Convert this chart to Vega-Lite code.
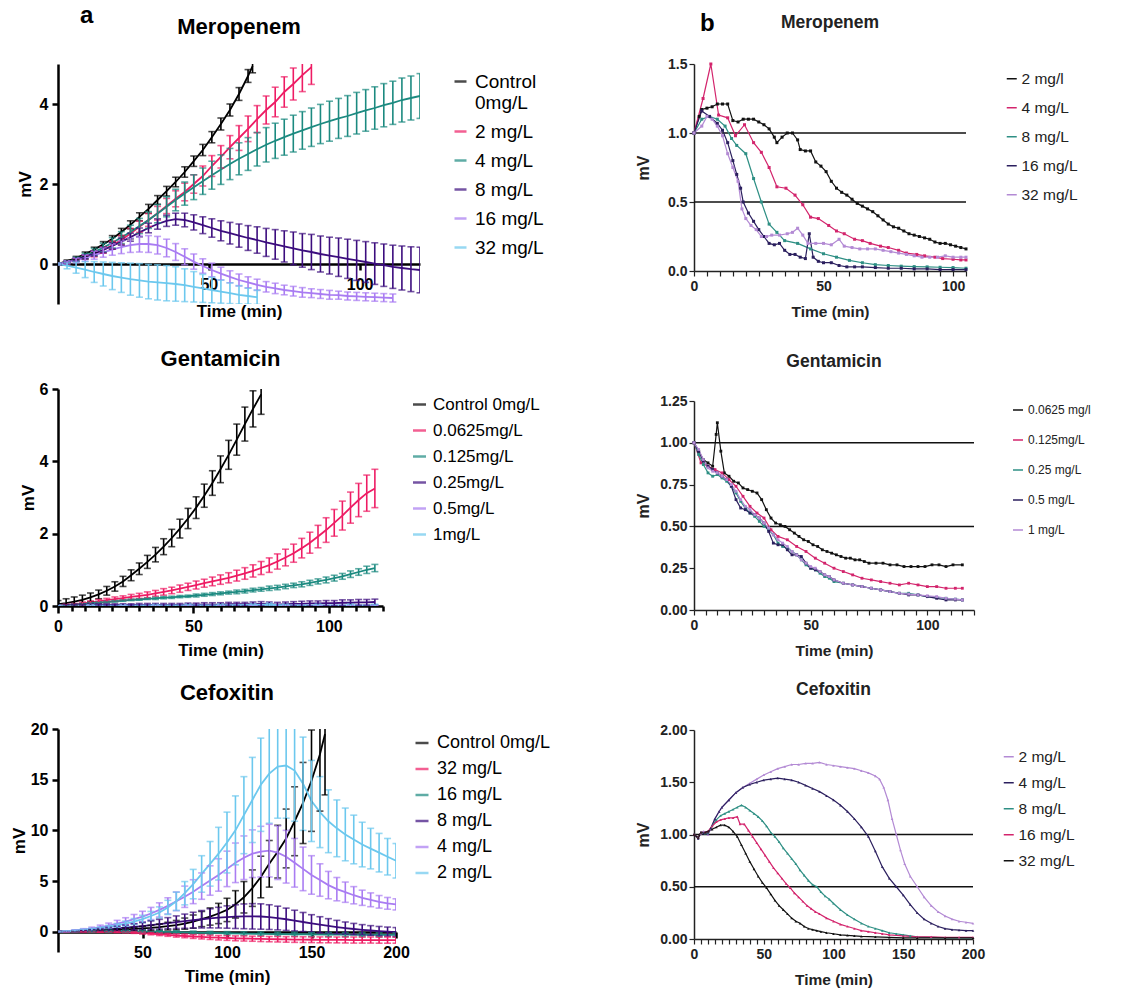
{
"$schema": "https://vega.github.io/schema/vega-lite/v6.json",
"background": "white",
"padding": {"left": 10, "top": 4, "right": 5, "bottom": 3},
"config": {
 "view": {"stroke": null},
 "axis": {"grid": false, "domainColor": "#000", "domainWidth": 2.5, "tickColor": "#000", "tickWidth": 2.5, "tickSize": 6, "labelColor": "#000", "labelFont": "Liberation Sans", "labelFontSize": 16, "labelFontWeight": "bold", "labelPadding": 4, "labelFlush": false, "labelOverlap": false, "titleFont": "Liberation Sans", "titleFontSize": 17, "titleFontWeight": "bold", "titleColor": "#000"},
 "legend": {"labelFont": "Liberation Sans", "labelColor": "#000", "symbolType": "stroke"}
},
"datasets": {
"a1": [
{"t":0,"s":"k","v":0,"e":0.02},{"t":3,"s":"k","v":0.07,"e":0.03},{"t":6,"s":"k","v":0.15,"e":0.04},{"t":9,"s":"k","v":0.25,"e":0.05},{"t":12,"s":"k","v":0.36,"e":0.06},{"t":15,"s":"k","v":0.49,"e":0.07},{"t":18,"s":"k","v":0.63,"e":0.08},{"t":21,"s":"k","v":0.8,"e":0.09},{"t":24,"s":"k","v":0.98,"e":0.1},{"t":27,"s":"k","v":1.18,"e":0.1},{"t":30,"s":"k","v":1.38,"e":0.11},{"t":33,"s":"k","v":1.6,"e":0.11},{"t":36,"s":"k","v":1.82,"e":0.12},{"t":39,"s":"k","v":2.05,"e":0.12},{"t":42,"s":"k","v":2.3,"e":0.13},{"t":45,"s":"k","v":2.57,"e":0.13},{"t":48,"s":"k","v":2.85,"e":0.14},{"t":51,"s":"k","v":3.17,"e":0.14},{"t":54,"s":"k","v":3.5,"e":0.15},{"t":57,"s":"k","v":3.85,"e":0.15},{"t":60,"s":"k","v":4.25,"e":0.16},{"t":63,"s":"k","v":4.7,"e":0.16},{"t":64.5,"s":"k","v":4.95,"e":0.17},
{"t":0,"s":"p","v":0,"e":0.02},{"t":3,"s":"p","v":0.04,"e":0.03},{"t":6,"s":"p","v":0.1,"e":0.04},{"t":9,"s":"p","v":0.17,"e":0.05},{"t":12,"s":"p","v":0.25,"e":0.07},{"t":15,"s":"p","v":0.35,"e":0.08},{"t":18,"s":"p","v":0.47,"e":0.1},{"t":21,"s":"p","v":0.6,"e":0.11},{"t":24,"s":"p","v":0.76,"e":0.13},{"t":27,"s":"p","v":0.93,"e":0.14},{"t":30,"s":"p","v":1.1,"e":0.16},{"t":33,"s":"p","v":1.27,"e":0.17},{"t":36,"s":"p","v":1.45,"e":0.19},{"t":39,"s":"p","v":1.63,"e":0.2},{"t":42,"s":"p","v":1.8,"e":0.22},{"t":45,"s":"p","v":2.0,"e":0.23},{"t":48,"s":"p","v":2.2,"e":0.25},{"t":51,"s":"p","v":2.45,"e":0.26},{"t":54,"s":"p","v":2.68,"e":0.28},{"t":57,"s":"p","v":2.92,"e":0.29},{"t":60,"s":"p","v":3.15,"e":0.31},{"t":63,"s":"p","v":3.38,"e":0.32},{"t":66,"s":"p","v":3.62,"e":0.34},{"t":69,"s":"p","v":3.85,"e":0.35},{"t":72,"s":"p","v":4.05,"e":0.37},{"t":75,"s":"p","v":4.3,"e":0.38},{"t":78,"s":"p","v":4.5,"e":0.4},{"t":81,"s":"p","v":4.72,"e":0.41},{"t":84,"s":"p","v":4.92,"e":0.43},
{"t":0,"s":"t","v":0,"e":0.02},{"t":3,"s":"t","v":0.05,"e":0.03},{"t":6,"s":"t","v":0.12,"e":0.05},{"t":9,"s":"t","v":0.2,"e":0.07},{"t":12,"s":"t","v":0.3,"e":0.09},{"t":15,"s":"t","v":0.41,"e":0.11},{"t":18,"s":"t","v":0.53,"e":0.13},{"t":21,"s":"t","v":0.66,"e":0.15},{"t":24,"s":"t","v":0.8,"e":0.17},{"t":27,"s":"t","v":0.95,"e":0.19},{"t":30,"s":"t","v":1.1,"e":0.21},{"t":33,"s":"t","v":1.26,"e":0.23},{"t":36,"s":"t","v":1.43,"e":0.25},{"t":39,"s":"t","v":1.6,"e":0.27},{"t":42,"s":"t","v":1.76,"e":0.29},{"t":45,"s":"t","v":1.92,"e":0.31},{"t":48,"s":"t","v":2.07,"e":0.33},{"t":51,"s":"t","v":2.22,"e":0.35},{"t":54,"s":"t","v":2.36,"e":0.37},{"t":57,"s":"t","v":2.5,"e":0.39},{"t":60,"s":"t","v":2.63,"e":0.4},{"t":63,"s":"t","v":2.75,"e":0.41},{"t":66,"s":"t","v":2.87,"e":0.42},{"t":69,"s":"t","v":2.98,"e":0.43},{"t":72,"s":"t","v":3.08,"e":0.44},{"t":75,"s":"t","v":3.17,"e":0.45},{"t":78,"s":"t","v":3.26,"e":0.46},{"t":81,"s":"t","v":3.34,"e":0.47},{"t":84,"s":"t","v":3.42,"e":0.48},{"t":87,"s":"t","v":3.5,"e":0.49},{"t":90,"s":"t","v":3.57,"e":0.5},{"t":93,"s":"t","v":3.64,"e":0.5},{"t":96,"s":"t","v":3.7,"e":0.51},{"t":99,"s":"t","v":3.77,"e":0.52},{"t":102,"s":"t","v":3.84,"e":0.52},{"t":105,"s":"t","v":3.9,"e":0.53},{"t":108,"s":"t","v":3.97,"e":0.54},{"t":111,"s":"t","v":4.03,"e":0.54},{"t":114,"s":"t","v":4.1,"e":0.55},{"t":117,"s":"t","v":4.15,"e":0.55},{"t":120,"s":"t","v":4.2,"e":0.56},
{"t":0,"s":"d","v":0,"e":0.02},{"t":3,"s":"d","v":0.05,"e":0.03},{"t":6,"s":"d","v":0.11,"e":0.04},{"t":9,"s":"d","v":0.18,"e":0.05},{"t":12,"s":"d","v":0.26,"e":0.06},{"t":15,"s":"d","v":0.35,"e":0.07},{"t":18,"s":"d","v":0.45,"e":0.08},{"t":21,"s":"d","v":0.56,"e":0.09},{"t":24,"s":"d","v":0.67,"e":0.1},{"t":27,"s":"d","v":0.79,"e":0.11},{"t":30,"s":"d","v":0.9,"e":0.12},{"t":33,"s":"d","v":1.0,"e":0.13},{"t":36,"s":"d","v":1.08,"e":0.14},{"t":39,"s":"d","v":1.12,"e":0.15},{"t":42,"s":"d","v":1.1,"e":0.17},{"t":45,"s":"d","v":1.04,"e":0.19},{"t":48,"s":"d","v":0.97,"e":0.21},{"t":51,"s":"d","v":0.9,"e":0.23},{"t":54,"s":"d","v":0.83,"e":0.25},{"t":57,"s":"d","v":0.77,"e":0.27},{"t":60,"s":"d","v":0.71,"e":0.29},{"t":63,"s":"d","v":0.65,"e":0.31},{"t":66,"s":"d","v":0.6,"e":0.33},{"t":69,"s":"d","v":0.54,"e":0.35},{"t":72,"s":"d","v":0.49,"e":0.37},{"t":75,"s":"d","v":0.44,"e":0.39},{"t":78,"s":"d","v":0.39,"e":0.41},{"t":81,"s":"d","v":0.34,"e":0.42},{"t":84,"s":"d","v":0.3,"e":0.44},{"t":87,"s":"d","v":0.25,"e":0.45},{"t":90,"s":"d","v":0.21,"e":0.46},{"t":93,"s":"d","v":0.17,"e":0.48},{"t":96,"s":"d","v":0.13,"e":0.49},{"t":99,"s":"d","v":0.09,"e":0.5},{"t":102,"s":"d","v":0.05,"e":0.51},{"t":105,"s":"d","v":0.01,"e":0.52},{"t":108,"s":"d","v":-0.03,"e":0.53},{"t":111,"s":"d","v":-0.07,"e":0.54},{"t":114,"s":"d","v":-0.1,"e":0.55},{"t":117,"s":"d","v":-0.13,"e":0.56},{"t":120,"s":"d","v":-0.15,"e":0.57},
{"t":0,"s":"l","v":0,"e":0.02},{"t":3,"s":"l","v":0.04,"e":0.04},{"t":6,"s":"l","v":0.09,"e":0.06},{"t":9,"s":"l","v":0.15,"e":0.08},{"t":12,"s":"l","v":0.22,"e":0.1},{"t":15,"s":"l","v":0.29,"e":0.12},{"t":18,"s":"l","v":0.36,"e":0.14},{"t":21,"s":"l","v":0.42,"e":0.16},{"t":24,"s":"l","v":0.47,"e":0.18},{"t":27,"s":"l","v":0.5,"e":0.2},{"t":30,"s":"l","v":0.5,"e":0.21},{"t":33,"s":"l","v":0.47,"e":0.22},{"t":36,"s":"l","v":0.4,"e":0.22},{"t":39,"s":"l","v":0.3,"e":0.21},{"t":42,"s":"l","v":0.18,"e":0.2},{"t":45,"s":"l","v":0.06,"e":0.19},{"t":48,"s":"l","v":-0.05,"e":0.18},{"t":51,"s":"l","v":-0.15,"e":0.17},{"t":54,"s":"l","v":-0.24,"e":0.16},{"t":57,"s":"l","v":-0.32,"e":0.15},{"t":60,"s":"l","v":-0.4,"e":0.15},{"t":63,"s":"l","v":-0.46,"e":0.14},{"t":66,"s":"l","v":-0.52,"e":0.14},{"t":69,"s":"l","v":-0.57,"e":0.13},{"t":72,"s":"l","v":-0.61,"e":0.13},{"t":75,"s":"l","v":-0.65,"e":0.12},{"t":78,"s":"l","v":-0.68,"e":0.12},{"t":81,"s":"l","v":-0.71,"e":0.12},{"t":84,"s":"l","v":-0.73,"e":0.11},{"t":87,"s":"l","v":-0.75,"e":0.11},{"t":90,"s":"l","v":-0.77,"e":0.11},{"t":93,"s":"l","v":-0.78,"e":0.1},{"t":96,"s":"l","v":-0.8,"e":0.1},{"t":99,"s":"l","v":-0.81,"e":0.1},{"t":102,"s":"l","v":-0.82,"e":0.1},{"t":105,"s":"l","v":-0.83,"e":0.1},{"t":108,"s":"l","v":-0.84,"e":0.1},{"t":111,"s":"l","v":-0.85,"e":0.1},
{"t":0,"s":"c","v":0,"e":0.02},{"t":3,"s":"c","v":-0.04,"e":0.08},{"t":6,"s":"c","v":-0.09,"e":0.14},{"t":9,"s":"c","v":-0.14,"e":0.2},{"t":12,"s":"c","v":-0.2,"e":0.26},{"t":15,"s":"c","v":-0.25,"e":0.3},{"t":18,"s":"c","v":-0.3,"e":0.34},{"t":21,"s":"c","v":-0.34,"e":0.37},{"t":24,"s":"c","v":-0.38,"e":0.4},{"t":27,"s":"c","v":-0.41,"e":0.42},{"t":30,"s":"c","v":-0.44,"e":0.43},{"t":33,"s":"c","v":-0.46,"e":0.44},{"t":36,"s":"c","v":-0.48,"e":0.44},{"t":39,"s":"c","v":-0.5,"e":0.43},{"t":42,"s":"c","v":-0.53,"e":0.41},{"t":45,"s":"c","v":-0.57,"e":0.38},{"t":48,"s":"c","v":-0.61,"e":0.35},{"t":51,"s":"c","v":-0.65,"e":0.32},{"t":54,"s":"c","v":-0.69,"e":0.29},{"t":57,"s":"c","v":-0.73,"e":0.26},{"t":60,"s":"c","v":-0.77,"e":0.23},{"t":63,"s":"c","v":-0.8,"e":0.2},{"t":66,"s":"c","v":-0.83,"e":0.18}
],
"a2": [
{"t":0,"s":"k","v":0.05,"e":0.1},{"t":3,"s":"k","v":0.08,"e":0.12},{"t":6,"s":"k","v":0.12,"e":0.13},{"t":9,"s":"k","v":0.17,"e":0.13},{"t":12,"s":"k","v":0.24,"e":0.12},{"t":15,"s":"k","v":0.32,"e":0.12},{"t":18,"s":"k","v":0.42,"e":0.12},{"t":21,"s":"k","v":0.54,"e":0.13},{"t":24,"s":"k","v":0.68,"e":0.14},{"t":27,"s":"k","v":0.85,"e":0.15},{"t":30,"s":"k","v":1.03,"e":0.16},{"t":33,"s":"k","v":1.22,"e":0.18},{"t":36,"s":"k","v":1.42,"e":0.2},{"t":39,"s":"k","v":1.64,"e":0.22},{"t":42,"s":"k","v":1.88,"e":0.24},{"t":45,"s":"k","v":2.14,"e":0.26},{"t":48,"s":"k","v":2.42,"e":0.28},{"t":51,"s":"k","v":2.72,"e":0.3},{"t":54,"s":"k","v":3.05,"e":0.32},{"t":57,"s":"k","v":3.4,"e":0.34},{"t":60,"s":"k","v":3.78,"e":0.37},{"t":63,"s":"k","v":4.18,"e":0.4},{"t":66,"s":"k","v":4.6,"e":0.43},{"t":69,"s":"k","v":5.03,"e":0.47},{"t":72,"s":"k","v":5.45,"e":0.5},{"t":75,"s":"k","v":5.85,"e":0.55},
{"t":0,"s":"p","v":0,"e":0.02},{"t":3,"s":"p","v":0.02,"e":0.03},{"t":6,"s":"p","v":0.04,"e":0.03},{"t":9,"s":"p","v":0.07,"e":0.04},{"t":12,"s":"p","v":0.1,"e":0.04},{"t":15,"s":"p","v":0.13,"e":0.05},{"t":18,"s":"p","v":0.16,"e":0.05},{"t":21,"s":"p","v":0.19,"e":0.06},{"t":24,"s":"p","v":0.22,"e":0.06},{"t":27,"s":"p","v":0.25,"e":0.07},{"t":30,"s":"p","v":0.28,"e":0.07},{"t":33,"s":"p","v":0.31,"e":0.08},{"t":36,"s":"p","v":0.35,"e":0.08},{"t":39,"s":"p","v":0.39,"e":0.09},{"t":42,"s":"p","v":0.43,"e":0.09},{"t":45,"s":"p","v":0.48,"e":0.1},{"t":48,"s":"p","v":0.53,"e":0.1},{"t":51,"s":"p","v":0.58,"e":0.11},{"t":54,"s":"p","v":0.63,"e":0.11},{"t":57,"s":"p","v":0.68,"e":0.12},{"t":60,"s":"p","v":0.73,"e":0.13},{"t":63,"s":"p","v":0.78,"e":0.14},{"t":66,"s":"p","v":0.84,"e":0.15},{"t":69,"s":"p","v":0.9,"e":0.16},{"t":72,"s":"p","v":0.97,"e":0.17},{"t":75,"s":"p","v":1.05,"e":0.18},{"t":78,"s":"p","v":1.13,"e":0.2},{"t":81,"s":"p","v":1.23,"e":0.21},{"t":84,"s":"p","v":1.34,"e":0.23},{"t":87,"s":"p","v":1.46,"e":0.25},{"t":90,"s":"p","v":1.6,"e":0.27},{"t":93,"s":"p","v":1.75,"e":0.29},{"t":96,"s":"p","v":1.92,"e":0.31},{"t":99,"s":"p","v":2.1,"e":0.34},{"t":102,"s":"p","v":2.3,"e":0.37},{"t":105,"s":"p","v":2.5,"e":0.4},{"t":108,"s":"p","v":2.72,"e":0.43},{"t":111,"s":"p","v":2.93,"e":0.46},{"t":114,"s":"p","v":3.12,"e":0.5},{"t":117,"s":"p","v":3.25,"e":0.53},
{"t":0,"s":"t","v":0,"e":0.02},{"t":3,"s":"t","v":0.01,"e":0.02},{"t":6,"s":"t","v":0.03,"e":0.02},{"t":9,"s":"t","v":0.05,"e":0.02},{"t":12,"s":"t","v":0.07,"e":0.02},{"t":15,"s":"t","v":0.09,"e":0.02},{"t":18,"s":"t","v":0.11,"e":0.02},{"t":21,"s":"t","v":0.13,"e":0.02},{"t":24,"s":"t","v":0.15,"e":0.02},{"t":27,"s":"t","v":0.17,"e":0.02},{"t":30,"s":"t","v":0.18,"e":0.02},{"t":33,"s":"t","v":0.2,"e":0.02},{"t":36,"s":"t","v":0.21,"e":0.03},{"t":39,"s":"t","v":0.23,"e":0.03},{"t":42,"s":"t","v":0.24,"e":0.03},{"t":45,"s":"t","v":0.26,"e":0.03},{"t":48,"s":"t","v":0.27,"e":0.03},{"t":51,"s":"t","v":0.29,"e":0.04},{"t":54,"s":"t","v":0.31,"e":0.04},{"t":57,"s":"t","v":0.33,"e":0.04},{"t":60,"s":"t","v":0.35,"e":0.04},{"t":63,"s":"t","v":0.37,"e":0.04},{"t":66,"s":"t","v":0.39,"e":0.05},{"t":69,"s":"t","v":0.41,"e":0.05},{"t":72,"s":"t","v":0.44,"e":0.05},{"t":75,"s":"t","v":0.46,"e":0.05},{"t":78,"s":"t","v":0.49,"e":0.06},{"t":81,"s":"t","v":0.51,"e":0.06},{"t":84,"s":"t","v":0.54,"e":0.06},{"t":87,"s":"t","v":0.57,"e":0.06},{"t":90,"s":"t","v":0.6,"e":0.07},{"t":93,"s":"t","v":0.64,"e":0.07},{"t":96,"s":"t","v":0.68,"e":0.07},{"t":99,"s":"t","v":0.72,"e":0.08},{"t":102,"s":"t","v":0.77,"e":0.08},{"t":105,"s":"t","v":0.82,"e":0.08},{"t":108,"s":"t","v":0.88,"e":0.09},{"t":111,"s":"t","v":0.94,"e":0.09},{"t":114,"s":"t","v":1.0,"e":0.1},{"t":117,"s":"t","v":1.05,"e":0.1},
{"t":0,"s":"d","v":0,"e":0.03},{"t":3,"s":"d","v":0.01,"e":0.03},{"t":6,"s":"d","v":0.02,"e":0.03},{"t":9,"s":"d","v":0.02,"e":0.03},{"t":12,"s":"d","v":0.03,"e":0.03},{"t":15,"s":"d","v":0.03,"e":0.03},{"t":18,"s":"d","v":0.03,"e":0.03},{"t":21,"s":"d","v":0.03,"e":0.03},{"t":24,"s":"d","v":0.03,"e":0.03},{"t":27,"s":"d","v":0.03,"e":0.03},{"t":30,"s":"d","v":0.03,"e":0.04},{"t":33,"s":"d","v":0.03,"e":0.04},{"t":36,"s":"d","v":0.03,"e":0.04},{"t":39,"s":"d","v":0.03,"e":0.04},{"t":42,"s":"d","v":0.03,"e":0.04},{"t":45,"s":"d","v":0.03,"e":0.04},{"t":48,"s":"d","v":0.04,"e":0.04},{"t":51,"s":"d","v":0.04,"e":0.04},{"t":54,"s":"d","v":0.04,"e":0.05},{"t":57,"s":"d","v":0.04,"e":0.05},{"t":60,"s":"d","v":0.04,"e":0.05},{"t":63,"s":"d","v":0.05,"e":0.05},{"t":66,"s":"d","v":0.05,"e":0.05},{"t":69,"s":"d","v":0.05,"e":0.05},{"t":72,"s":"d","v":0.05,"e":0.06},{"t":75,"s":"d","v":0.06,"e":0.06},{"t":78,"s":"d","v":0.05,"e":0.06},{"t":81,"s":"d","v":0.04,"e":0.06},{"t":84,"s":"d","v":0.05,"e":0.06},{"t":87,"s":"d","v":0.06,"e":0.06},{"t":90,"s":"d","v":0.06,"e":0.07},{"t":93,"s":"d","v":0.07,"e":0.07},{"t":96,"s":"d","v":0.07,"e":0.07},{"t":99,"s":"d","v":0.08,"e":0.07},{"t":102,"s":"d","v":0.08,"e":0.07},{"t":105,"s":"d","v":0.09,"e":0.08},{"t":108,"s":"d","v":0.09,"e":0.08},{"t":111,"s":"d","v":0.1,"e":0.08},{"t":114,"s":"d","v":0.1,"e":0.08},{"t":117,"s":"d","v":0.11,"e":0.08},
{"t":0,"s":"l","v":0,"e":0.01},{"t":12,"s":"l","v":0.01,"e":0.01},{"t":24,"s":"l","v":0.01,"e":0.01},{"t":36,"s":"l","v":0.01,"e":0.01},{"t":48,"s":"l","v":0.01,"e":0.01},{"t":60,"s":"l","v":0.01,"e":0.01},{"t":72,"s":"l","v":0.01,"e":0.01},{"t":84,"s":"l","v":0.01,"e":0.01},{"t":96,"s":"l","v":0.01,"e":0.01},{"t":108,"s":"l","v":0.01,"e":0.01},{"t":117,"s":"l","v":0.01,"e":0.01},
{"t":0,"s":"c","v":0,"e":0.02},{"t":12,"s":"c","v":0.01,"e":0.02},{"t":24,"s":"c","v":0.01,"e":0.02},{"t":36,"s":"c","v":0.02,"e":0.02},{"t":48,"s":"c","v":0.02,"e":0.03},{"t":60,"s":"c","v":0.02,"e":0.03},{"t":72,"s":"c","v":0.03,"e":0.03},{"t":78,"s":"c","v":0.04,"e":0.04},{"t":84,"s":"c","v":0.02,"e":0.03},{"t":96,"s":"c","v":0.02,"e":0.03},{"t":108,"s":"c","v":0.02,"e":0.03},{"t":117,"s":"c","v":0.02,"e":0.03}
],
"a3": [
{"t":0,"s":"k","v":0,"e":0.02},{"t":5,"s":"k","v":0.02,"e":0.03},{"t":10,"s":"k","v":0.04,"e":0.04},{"t":15,"s":"k","v":0.06,"e":0.05},{"t":20,"s":"k","v":0.09,"e":0.06},{"t":25,"s":"k","v":0.12,"e":0.07},{"t":30,"s":"k","v":0.15,"e":0.08},{"t":35,"s":"k","v":0.19,"e":0.1},{"t":40,"s":"k","v":0.23,"e":0.12},{"t":45,"s":"k","v":0.28,"e":0.15},{"t":50,"s":"k","v":0.33,"e":0.2},{"t":55,"s":"k","v":0.38,"e":0.25},{"t":60,"s":"k","v":0.45,"e":0.3},{"t":65,"s":"k","v":0.55,"e":0.38},{"t":70,"s":"k","v":0.65,"e":0.46},{"t":75,"s":"k","v":0.8,"e":0.55},{"t":80,"s":"k","v":1.0,"e":0.65},{"t":85,"s":"k","v":1.25,"e":0.75},{"t":90,"s":"k","v":1.5,"e":0.85},{"t":95,"s":"k","v":1.8,"e":1.0},{"t":100,"s":"k","v":2.15,"e":1.15},{"t":105,"s":"k","v":2.7,"e":1.35},{"t":110,"s":"k","v":3.4,"e":1.55},{"t":115,"s":"k","v":4.3,"e":1.8},{"t":120,"s":"k","v":5.4,"e":2.05},{"t":125,"s":"k","v":6.7,"e":2.3},{"t":130,"s":"k","v":7.9,"e":2.6},{"t":135,"s":"k","v":9.2,"e":2.9},{"t":140,"s":"k","v":10.9,"e":3.4},{"t":145,"s":"k","v":12.7,"e":4.0},{"t":150,"s":"k","v":14.9,"e":5.0},{"t":155,"s":"k","v":17.5,"e":5.6},{"t":158,"s":"k","v":19.5,"e":6.0},
{"t":0,"s":"p","v":0,"e":0.02},{"t":5,"s":"p","v":0,"e":0.02},{"t":10,"s":"p","v":0,"e":0.02},{"t":15,"s":"p","v":0,"e":0.03},{"t":20,"s":"p","v":0,"e":0.03},{"t":25,"s":"p","v":-0.01,"e":0.04},{"t":30,"s":"p","v":-0.01,"e":0.05},{"t":35,"s":"p","v":-0.02,"e":0.06},{"t":40,"s":"p","v":-0.04,"e":0.07},{"t":45,"s":"p","v":-0.08,"e":0.08},{"t":50,"s":"p","v":-0.13,"e":0.1},{"t":55,"s":"p","v":-0.19,"e":0.11},{"t":60,"s":"p","v":-0.25,"e":0.13},{"t":65,"s":"p","v":-0.31,"e":0.14},{"t":70,"s":"p","v":-0.37,"e":0.16},{"t":75,"s":"p","v":-0.42,"e":0.17},{"t":80,"s":"p","v":-0.47,"e":0.19},{"t":85,"s":"p","v":-0.51,"e":0.2},{"t":90,"s":"p","v":-0.55,"e":0.21},{"t":95,"s":"p","v":-0.59,"e":0.22},{"t":100,"s":"p","v":-0.62,"e":0.23},{"t":105,"s":"p","v":-0.65,"e":0.24},{"t":110,"s":"p","v":-0.67,"e":0.25},{"t":115,"s":"p","v":-0.69,"e":0.25},{"t":120,"s":"p","v":-0.71,"e":0.26},{"t":125,"s":"p","v":-0.73,"e":0.26},{"t":130,"s":"p","v":-0.74,"e":0.27},{"t":135,"s":"p","v":-0.76,"e":0.27},{"t":140,"s":"p","v":-0.77,"e":0.28},{"t":145,"s":"p","v":-0.78,"e":0.28},{"t":150,"s":"p","v":-0.79,"e":0.28},{"t":155,"s":"p","v":-0.8,"e":0.29},{"t":160,"s":"p","v":-0.8,"e":0.29},{"t":165,"s":"p","v":-0.81,"e":0.29},{"t":170,"s":"p","v":-0.81,"e":0.3},{"t":175,"s":"p","v":-0.82,"e":0.3},{"t":180,"s":"p","v":-0.82,"e":0.3},{"t":185,"s":"p","v":-0.82,"e":0.3},{"t":190,"s":"p","v":-0.83,"e":0.3},{"t":195,"s":"p","v":-0.83,"e":0.3},{"t":200,"s":"p","v":-0.83,"e":0.3},
{"t":0,"s":"t","v":0,"e":0.02},{"t":10,"s":"t","v":0.02,"e":0.05},{"t":20,"s":"t","v":0.04,"e":0.07},{"t":30,"s":"t","v":0.05,"e":0.09},{"t":40,"s":"t","v":0.05,"e":0.1},{"t":50,"s":"t","v":0.03,"e":0.11},{"t":60,"s":"t","v":0,"e":0.12},{"t":70,"s":"t","v":-0.04,"e":0.13},{"t":80,"s":"t","v":-0.08,"e":0.14},{"t":90,"s":"t","v":-0.12,"e":0.15},{"t":100,"s":"t","v":-0.15,"e":0.16},{"t":110,"s":"t","v":-0.18,"e":0.17},{"t":120,"s":"t","v":-0.21,"e":0.18},{"t":130,"s":"t","v":-0.23,"e":0.18},{"t":140,"s":"t","v":-0.25,"e":0.19},{"t":150,"s":"t","v":-0.27,"e":0.19},{"t":160,"s":"t","v":-0.28,"e":0.2},{"t":170,"s":"t","v":-0.29,"e":0.2},{"t":180,"s":"t","v":-0.3,"e":0.2},{"t":190,"s":"t","v":-0.31,"e":0.2},{"t":200,"s":"t","v":-0.32,"e":0.2},
{"t":0,"s":"d","v":0,"e":0.02},{"t":5,"s":"d","v":0.03,"e":0.03},{"t":10,"s":"d","v":0.06,"e":0.05},{"t":15,"s":"d","v":0.1,"e":0.07},{"t":20,"s":"d","v":0.15,"e":0.1},{"t":25,"s":"d","v":0.2,"e":0.13},{"t":30,"s":"d","v":0.26,"e":0.17},{"t":35,"s":"d","v":0.33,"e":0.21},{"t":40,"s":"d","v":0.4,"e":0.26},{"t":45,"s":"d","v":0.48,"e":0.31},{"t":50,"s":"d","v":0.56,"e":0.36},{"t":55,"s":"d","v":0.65,"e":0.42},{"t":60,"s":"d","v":0.74,"e":0.48},{"t":65,"s":"d","v":0.84,"e":0.55},{"t":70,"s":"d","v":0.94,"e":0.62},{"t":75,"s":"d","v":1.04,"e":0.7},{"t":80,"s":"d","v":1.14,"e":0.78},{"t":85,"s":"d","v":1.23,"e":0.86},{"t":90,"s":"d","v":1.32,"e":0.94},{"t":95,"s":"d","v":1.39,"e":1.02},{"t":100,"s":"d","v":1.45,"e":1.1},{"t":105,"s":"d","v":1.49,"e":1.17},{"t":110,"s":"d","v":1.52,"e":1.22},{"t":115,"s":"d","v":1.52,"e":1.25},{"t":120,"s":"d","v":1.5,"e":1.25},{"t":125,"s":"d","v":1.44,"e":1.22},{"t":130,"s":"d","v":1.35,"e":1.17},{"t":135,"s":"d","v":1.23,"e":1.1},{"t":140,"s":"d","v":1.1,"e":1.02},{"t":145,"s":"d","v":0.96,"e":0.94},{"t":150,"s":"d","v":0.82,"e":0.86},{"t":155,"s":"d","v":0.69,"e":0.79},{"t":160,"s":"d","v":0.57,"e":0.72},{"t":165,"s":"d","v":0.46,"e":0.66},{"t":170,"s":"d","v":0.36,"e":0.6},{"t":175,"s":"d","v":0.27,"e":0.55},{"t":180,"s":"d","v":0.19,"e":0.51},{"t":185,"s":"d","v":0.12,"e":0.48},{"t":190,"s":"d","v":0.06,"e":0.46},{"t":195,"s":"d","v":0.01,"e":0.45},{"t":200,"s":"d","v":-0.03,"e":0.44},
{"t":0,"s":"l","v":0,"e":0.02},{"t":5,"s":"l","v":0.05,"e":0.04},{"t":10,"s":"l","v":0.12,"e":0.07},{"t":15,"s":"l","v":0.2,"e":0.1},{"t":20,"s":"l","v":0.3,"e":0.15},{"t":25,"s":"l","v":0.45,"e":0.2},{"t":30,"s":"l","v":0.6,"e":0.25},{"t":35,"s":"l","v":0.8,"e":0.32},{"t":40,"s":"l","v":1.0,"e":0.38},{"t":45,"s":"l","v":1.25,"e":0.45},{"t":50,"s":"l","v":1.5,"e":0.52},{"t":55,"s":"l","v":1.8,"e":0.6},{"t":60,"s":"l","v":2.15,"e":0.7},{"t":65,"s":"l","v":2.55,"e":0.8},{"t":70,"s":"l","v":3.0,"e":0.92},{"t":75,"s":"l","v":3.45,"e":1.05},{"t":80,"s":"l","v":3.95,"e":1.18},{"t":85,"s":"l","v":4.5,"e":1.3},{"t":90,"s":"l","v":5.05,"e":1.45},{"t":95,"s":"l","v":5.6,"e":1.6},{"t":100,"s":"l","v":6.2,"e":1.75},{"t":105,"s":"l","v":6.8,"e":1.95},{"t":110,"s":"l","v":7.3,"e":2.15},{"t":115,"s":"l","v":7.7,"e":2.35},{"t":120,"s":"l","v":7.9,"e":2.5},{"t":125,"s":"l","v":8.0,"e":2.6},{"t":130,"s":"l","v":7.8,"e":2.65},{"t":135,"s":"l","v":7.4,"e":2.6},{"t":140,"s":"l","v":6.8,"e":2.4},{"t":145,"s":"l","v":6.2,"e":2.15},{"t":150,"s":"l","v":5.6,"e":1.9},{"t":155,"s":"l","v":5.1,"e":1.6},{"t":160,"s":"l","v":4.6,"e":1.35},{"t":165,"s":"l","v":4.2,"e":1.15},{"t":170,"s":"l","v":3.9,"e":1.0},{"t":175,"s":"l","v":3.6,"e":0.85},{"t":180,"s":"l","v":3.35,"e":0.75},{"t":185,"s":"l","v":3.15,"e":0.68},{"t":190,"s":"l","v":2.95,"e":0.62},{"t":195,"s":"l","v":2.8,"e":0.58},{"t":200,"s":"l","v":2.7,"e":0.55},
{"t":0,"s":"c","v":0,"e":0.02},{"t":5,"s":"c","v":0.05,"e":0.04},{"t":10,"s":"c","v":0.1,"e":0.06},{"t":15,"s":"c","v":0.17,"e":0.08},{"t":20,"s":"c","v":0.25,"e":0.1},{"t":25,"s":"c","v":0.35,"e":0.13},{"t":30,"s":"c","v":0.47,"e":0.16},{"t":35,"s":"c","v":0.62,"e":0.2},{"t":40,"s":"c","v":0.8,"e":0.25},{"t":45,"s":"c","v":1.0,"e":0.3},{"t":50,"s":"c","v":1.25,"e":0.37},{"t":55,"s":"c","v":1.55,"e":0.45},{"t":60,"s":"c","v":1.9,"e":0.55},{"t":65,"s":"c","v":2.4,"e":0.7},{"t":70,"s":"c","v":3.0,"e":0.9},{"t":75,"s":"c","v":3.8,"e":1.15},{"t":80,"s":"c","v":4.7,"e":1.45},{"t":85,"s":"c","v":5.7,"e":1.8},{"t":90,"s":"c","v":6.7,"e":2.2},{"t":95,"s":"c","v":7.7,"e":2.6},{"t":100,"s":"c","v":8.8,"e":3.0},{"t":105,"s":"c","v":10.0,"e":3.4},{"t":110,"s":"c","v":11.5,"e":3.8},{"t":115,"s":"c","v":13.0,"e":4.2},{"t":120,"s":"c","v":14.5,"e":4.6},{"t":125,"s":"c","v":15.6,"e":4.9},{"t":130,"s":"c","v":16.3,"e":5.1},{"t":135,"s":"c","v":16.4,"e":5.2},{"t":140,"s":"c","v":15.9,"e":5.0},{"t":145,"s":"c","v":14.6,"e":4.6},{"t":150,"s":"c","v":12.9,"e":4.0},{"t":155,"s":"c","v":11.8,"e":3.5},{"t":160,"s":"c","v":10.9,"e":3.1},{"t":165,"s":"c","v":10.2,"e":2.8},{"t":170,"s":"c","v":9.6,"e":2.6},{"t":175,"s":"c","v":9.1,"e":2.4},{"t":180,"s":"c","v":8.6,"e":2.2},{"t":185,"s":"c","v":8.2,"e":2.0},{"t":190,"s":"c","v":7.8,"e":1.9},{"t":195,"s":"c","v":7.4,"e":1.8},{"t":200,"s":"c","v":7.0,"e":1.7}
],
"b1": [
{"t":0,"s":"k","v":1.0},{"t":2,"s":"k","v":1.12},{"t":3,"s":"k","v":1.17},{"t":5,"s":"k","v":1.18},{"t":7,"s":"k","v":1.19},{"t":9,"s":"k","v":1.21},{"t":11,"s":"k","v":1.21},{"t":13,"s":"k","v":1.21},{"t":15,"s":"k","v":1.09},{"t":17,"s":"k","v":1.08},{"t":19,"s":"k","v":1.1},{"t":21,"s":"k","v":1.1},{"t":23,"s":"k","v":1.1},{"t":25,"s":"k","v":1.08},{"t":27,"s":"k","v":1.06},{"t":29,"s":"k","v":1.03},{"t":31,"s":"k","v":0.97},{"t":32,"s":"k","v":0.93},{"t":34,"s":"k","v":0.97},{"t":36,"s":"k","v":1.0},{"t":38,"s":"k","v":1.0},{"t":40,"s":"k","v":0.95},{"t":41,"s":"k","v":0.88},{"t":43,"s":"k","v":0.87},{"t":45,"s":"k","v":0.87},{"t":47,"s":"k","v":0.79},{"t":49,"s":"k","v":0.76},{"t":51,"s":"k","v":0.72},{"t":53,"s":"k","v":0.65},{"t":55,"s":"k","v":0.6},{"t":57,"s":"k","v":0.57},{"t":59,"s":"k","v":0.55},{"t":61,"s":"k","v":0.52},{"t":63,"s":"k","v":0.49},{"t":65,"s":"k","v":0.47},{"t":67,"s":"k","v":0.45},{"t":69,"s":"k","v":0.43},{"t":71,"s":"k","v":0.4},{"t":73,"s":"k","v":0.37},{"t":75,"s":"k","v":0.34},{"t":77,"s":"k","v":0.32},{"t":79,"s":"k","v":0.31},{"t":81,"s":"k","v":0.29},{"t":83,"s":"k","v":0.27},{"t":85,"s":"k","v":0.26},{"t":87,"s":"k","v":0.25},{"t":89,"s":"k","v":0.24},{"t":91,"s":"k","v":0.23},{"t":93,"s":"k","v":0.21},{"t":95,"s":"k","v":0.2},{"t":97,"s":"k","v":0.2},{"t":99,"s":"k","v":0.19},{"t":101,"s":"k","v":0.18},{"t":103,"s":"k","v":0.17},{"t":105,"s":"k","v":0.16},
{"t":0,"s":"p","v":1.0},{"t":3.5,"s":"p","v":1.25},{"t":6.5,"s":"p","v":1.5},{"t":9.5,"s":"p","v":1.13},{"t":13,"s":"p","v":1.11},{"t":16,"s":"p","v":0.98},{"t":19.5,"s":"p","v":1.06},{"t":23,"s":"p","v":0.93},{"t":26,"s":"p","v":0.86},{"t":29,"s":"p","v":0.75},{"t":32,"s":"p","v":0.61},{"t":35.5,"s":"p","v":0.6},{"t":39,"s":"p","v":0.55},{"t":42,"s":"p","v":0.48},{"t":45,"s":"p","v":0.39},{"t":48,"s":"p","v":0.38},{"t":52,"s":"p","v":0.33},{"t":55,"s":"p","v":0.29},{"t":58,"s":"p","v":0.27},{"t":62,"s":"p","v":0.23},{"t":65,"s":"p","v":0.22},{"t":68,"s":"p","v":0.2},{"t":72,"s":"p","v":0.18},{"t":75,"s":"p","v":0.17},{"t":79,"s":"p","v":0.15},{"t":82,"s":"p","v":0.13},{"t":86,"s":"p","v":0.12},{"t":89,"s":"p","v":0.11},{"t":93,"s":"p","v":0.1},{"t":96,"s":"p","v":0.09},{"t":100,"s":"p","v":0.085},{"t":103,"s":"p","v":0.08},{"t":105,"s":"p","v":0.08},
{"t":0,"s":"t","v":1.0},{"t":3,"s":"t","v":1.1},{"t":6,"s":"t","v":1.12},{"t":9,"s":"t","v":1.1},{"t":12,"s":"t","v":1.05},{"t":14.5,"s":"t","v":0.96},{"t":16.5,"s":"t","v":0.91},{"t":20,"s":"t","v":0.85},{"t":23,"s":"t","v":0.67},{"t":26,"s":"t","v":0.5},{"t":29,"s":"t","v":0.34},{"t":32,"s":"t","v":0.28},{"t":35,"s":"t","v":0.22},{"t":40,"s":"t","v":0.2},{"t":45,"s":"t","v":0.16},{"t":50,"s":"t","v":0.125},{"t":55,"s":"t","v":0.1},{"t":60,"s":"t","v":0.077},{"t":65,"s":"t","v":0.06},{"t":70,"s":"t","v":0.046},{"t":75,"s":"t","v":0.04},{"t":80,"s":"t","v":0.035},{"t":85,"s":"t","v":0.032},{"t":90,"s":"t","v":0.03},{"t":95,"s":"t","v":0.027},{"t":100,"s":"t","v":0.025},{"t":105,"s":"t","v":0.02},
{"t":0,"s":"d","v":1.0},{"t":3,"s":"d","v":1.16},{"t":6,"s":"d","v":1.12},{"t":9,"s":"d","v":1.07},{"t":11,"s":"d","v":1.02},{"t":13,"s":"d","v":0.93},{"t":15,"s":"d","v":0.8},{"t":16.5,"s":"d","v":0.7},{"t":18,"s":"d","v":0.6},{"t":19,"s":"d","v":0.5},{"t":21,"s":"d","v":0.42},{"t":23,"s":"d","v":0.36},{"t":25,"s":"d","v":0.3},{"t":27,"s":"d","v":0.25},{"t":29,"s":"d","v":0.2},{"t":31,"s":"d","v":0.19},{"t":33,"s":"d","v":0.2},{"t":35,"s":"d","v":0.15},{"t":37,"s":"d","v":0.12},{"t":39,"s":"d","v":0.12},{"t":41,"s":"d","v":0.1},{"t":43,"s":"d","v":0.09},{"t":44.5,"s":"d","v":0.27},{"t":46,"s":"d","v":0.1},{"t":48,"s":"d","v":0.07},{"t":50,"s":"d","v":0.06},{"t":53,"s":"d","v":0.06},{"t":56,"s":"d","v":0.04},{"t":59,"s":"d","v":0.03},{"t":62,"s":"d","v":0.03},{"t":65,"s":"d","v":0.03},{"t":70,"s":"d","v":0.025},{"t":75,"s":"d","v":0.02},{"t":80,"s":"d","v":0.02},{"t":85,"s":"d","v":0.015},{"t":90,"s":"d","v":0.015},{"t":95,"s":"d","v":0.01},{"t":100,"s":"d","v":0.01},{"t":105,"s":"d","v":0.01},
{"t":0,"s":"l","v":1.0},{"t":3,"s":"l","v":1.05},{"t":5,"s":"l","v":1.12},{"t":7,"s":"l","v":1.1},{"t":9,"s":"l","v":1.05},{"t":11,"s":"l","v":0.98},{"t":13,"s":"l","v":0.85},{"t":15,"s":"l","v":0.75},{"t":17,"s":"l","v":0.65},{"t":18.5,"s":"l","v":0.45},{"t":20,"s":"l","v":0.38},{"t":22,"s":"l","v":0.33},{"t":24,"s":"l","v":0.3},{"t":26,"s":"l","v":0.25},{"t":28,"s":"l","v":0.25},{"t":30,"s":"l","v":0.26},{"t":33,"s":"l","v":0.26},{"t":36,"s":"l","v":0.27},{"t":38,"s":"l","v":0.28},{"t":40,"s":"l","v":0.31},{"t":42,"s":"l","v":0.26},{"t":44,"s":"l","v":0.2},{"t":47,"s":"l","v":0.2},{"t":50,"s":"l","v":0.2},{"t":53,"s":"l","v":0.19},{"t":56,"s":"l","v":0.23},{"t":58,"s":"l","v":0.18},{"t":61,"s":"l","v":0.17},{"t":64,"s":"l","v":0.16},{"t":67,"s":"l","v":0.16},{"t":70,"s":"l","v":0.16},{"t":73,"s":"l","v":0.15},{"t":76,"s":"l","v":0.14},{"t":79,"s":"l","v":0.13},{"t":82,"s":"l","v":0.12},{"t":85,"s":"l","v":0.11},{"t":88,"s":"l","v":0.1},{"t":91,"s":"l","v":0.1},{"t":94,"s":"l","v":0.1},{"t":97,"s":"l","v":0.11},{"t":100,"s":"l","v":0.1},{"t":103,"s":"l","v":0.1},{"t":105,"s":"l","v":0.1}
],
"b2": [
{"t":0,"s":"k","v":1.0},{"t":2,"s":"k","v":0.95},{"t":4,"s":"k","v":0.9},{"t":6,"s":"k","v":0.88},{"t":8,"s":"k","v":0.86},{"t":9.5,"s":"k","v":1.05},{"t":10,"s":"k","v":1.12},{"t":11.5,"s":"k","v":0.95},{"t":13,"s":"k","v":0.82},{"t":15,"s":"k","v":0.8},{"t":17,"s":"k","v":0.77},{"t":19,"s":"k","v":0.76},{"t":21,"s":"k","v":0.73},{"t":23,"s":"k","v":0.72},{"t":25,"s":"k","v":0.71},{"t":27,"s":"k","v":0.7},{"t":29,"s":"k","v":0.66},{"t":31,"s":"k","v":0.6},{"t":33,"s":"k","v":0.55},{"t":35,"s":"k","v":0.52},{"t":37,"s":"k","v":0.51},{"t":39,"s":"k","v":0.5},{"t":41,"s":"k","v":0.48},{"t":43,"s":"k","v":0.46},{"t":45,"s":"k","v":0.44},{"t":47,"s":"k","v":0.42},{"t":49,"s":"k","v":0.41},{"t":51,"s":"k","v":0.39},{"t":53,"s":"k","v":0.38},{"t":55,"s":"k","v":0.36},{"t":57,"s":"k","v":0.35},{"t":59,"s":"k","v":0.34},{"t":61,"s":"k","v":0.33},{"t":63,"s":"k","v":0.32},{"t":65,"s":"k","v":0.31},{"t":67,"s":"k","v":0.31},{"t":69,"s":"k","v":0.3},{"t":71,"s":"k","v":0.3},{"t":73,"s":"k","v":0.29},{"t":75,"s":"k","v":0.28},{"t":78,"s":"k","v":0.28},{"t":81,"s":"k","v":0.28},{"t":84,"s":"k","v":0.27},{"t":87,"s":"k","v":0.27},{"t":90,"s":"k","v":0.26},{"t":93,"s":"k","v":0.26},{"t":96,"s":"k","v":0.26},{"t":99,"s":"k","v":0.26},{"t":102,"s":"k","v":0.27},{"t":105,"s":"k","v":0.27},{"t":108,"s":"k","v":0.26},{"t":111,"s":"k","v":0.27},{"t":115,"s":"k","v":0.27},
{"t":0,"s":"p","v":1.0},{"t":3,"s":"p","v":0.88},{"t":6,"s":"p","v":0.86},{"t":9,"s":"p","v":0.84},{"t":12,"s":"p","v":0.82},{"t":15,"s":"p","v":0.78},{"t":18,"s":"p","v":0.74},{"t":21,"s":"p","v":0.68},{"t":24,"s":"p","v":0.62},{"t":27,"s":"p","v":0.58},{"t":30,"s":"p","v":0.55},{"t":33,"s":"p","v":0.48},{"t":36,"s":"p","v":0.44},{"t":40,"s":"p","v":0.42},{"t":44,"s":"p","v":0.38},{"t":48,"s":"p","v":0.35},{"t":52,"s":"p","v":0.31},{"t":56,"s":"p","v":0.28},{"t":60,"s":"p","v":0.25},{"t":64,"s":"p","v":0.23},{"t":68,"s":"p","v":0.21},{"t":72,"s":"p","v":0.19},{"t":76,"s":"p","v":0.18},{"t":80,"s":"p","v":0.17},{"t":84,"s":"p","v":0.16},{"t":88,"s":"p","v":0.15},{"t":92,"s":"p","v":0.16},{"t":96,"s":"p","v":0.15},{"t":100,"s":"p","v":0.14},{"t":104,"s":"p","v":0.14},{"t":108,"s":"p","v":0.13},{"t":112,"s":"p","v":0.13},{"t":115,"s":"p","v":0.13},
{"t":0,"s":"t","v":1.0},{"t":2,"s":"t","v":0.93},{"t":4,"s":"t","v":0.87},{"t":6,"s":"t","v":0.82},{"t":8,"s":"t","v":0.8},{"t":10,"s":"t","v":0.81},{"t":12,"s":"t","v":0.79},{"t":14,"s":"t","v":0.77},{"t":16,"s":"t","v":0.74},{"t":18,"s":"t","v":0.7},{"t":20,"s":"t","v":0.65},{"t":22,"s":"t","v":0.61},{"t":24,"s":"t","v":0.58},{"t":26,"s":"t","v":0.56},{"t":28,"s":"t","v":0.53},{"t":30,"s":"t","v":0.5},{"t":32,"s":"t","v":0.48},{"t":34,"s":"t","v":0.45},{"t":36,"s":"t","v":0.4},{"t":38,"s":"t","v":0.38},{"t":40,"s":"t","v":0.37},{"t":42,"s":"t","v":0.35},{"t":44,"s":"t","v":0.33},{"t":46,"s":"t","v":0.3},{"t":48,"s":"t","v":0.27},{"t":50,"s":"t","v":0.25},{"t":52,"s":"t","v":0.24},{"t":54,"s":"t","v":0.22},{"t":56,"s":"t","v":0.2},{"t":58,"s":"t","v":0.19},{"t":60,"s":"t","v":0.17},{"t":64,"s":"t","v":0.16},{"t":68,"s":"t","v":0.15},{"t":72,"s":"t","v":0.14},{"t":76,"s":"t","v":0.13},{"t":80,"s":"t","v":0.12},{"t":84,"s":"t","v":0.11},{"t":88,"s":"t","v":0.1},{"t":92,"s":"t","v":0.1},{"t":96,"s":"t","v":0.09},{"t":100,"s":"t","v":0.08},{"t":104,"s":"t","v":0.075},{"t":108,"s":"t","v":0.07},{"t":112,"s":"t","v":0.065},{"t":115,"s":"t","v":0.06},
{"t":0,"s":"d","v":1.0},{"t":2,"s":"d","v":0.95},{"t":4,"s":"d","v":0.89},{"t":6,"s":"d","v":0.86},{"t":8,"s":"d","v":0.84},{"t":10,"s":"d","v":0.82},{"t":12,"s":"d","v":0.8},{"t":14,"s":"d","v":0.78},{"t":16,"s":"d","v":0.74},{"t":18,"s":"d","v":0.66},{"t":20,"s":"d","v":0.61},{"t":22,"s":"d","v":0.6},{"t":24,"s":"d","v":0.58},{"t":26,"s":"d","v":0.57},{"t":28,"s":"d","v":0.55},{"t":30,"s":"d","v":0.52},{"t":32,"s":"d","v":0.47},{"t":34,"s":"d","v":0.4},{"t":36,"s":"d","v":0.39},{"t":38,"s":"d","v":0.39},{"t":40,"s":"d","v":0.36},{"t":42,"s":"d","v":0.33},{"t":44,"s":"d","v":0.33},{"t":46,"s":"d","v":0.32},{"t":48,"s":"d","v":0.28},{"t":50,"s":"d","v":0.25},{"t":52,"s":"d","v":0.24},{"t":54,"s":"d","v":0.23},{"t":56,"s":"d","v":0.21},{"t":58,"s":"d","v":0.2},{"t":60,"s":"d","v":0.18},{"t":64,"s":"d","v":0.16},{"t":68,"s":"d","v":0.15},{"t":72,"s":"d","v":0.14},{"t":76,"s":"d","v":0.13},{"t":80,"s":"d","v":0.12},{"t":84,"s":"d","v":0.11},{"t":88,"s":"d","v":0.1},{"t":92,"s":"d","v":0.09},{"t":96,"s":"d","v":0.09},{"t":100,"s":"d","v":0.08},{"t":104,"s":"d","v":0.07},{"t":108,"s":"d","v":0.06},{"t":112,"s":"d","v":0.06},{"t":115,"s":"d","v":0.06},
{"t":0,"s":"l","v":1.0},{"t":2,"s":"l","v":0.96},{"t":4,"s":"l","v":0.9},{"t":6,"s":"l","v":0.85},{"t":8,"s":"l","v":0.83},{"t":10,"s":"l","v":0.82},{"t":12,"s":"l","v":0.8},{"t":14,"s":"l","v":0.78},{"t":16,"s":"l","v":0.75},{"t":18,"s":"l","v":0.71},{"t":20,"s":"l","v":0.66},{"t":22,"s":"l","v":0.62},{"t":24,"s":"l","v":0.6},{"t":26,"s":"l","v":0.57},{"t":28,"s":"l","v":0.55},{"t":30,"s":"l","v":0.52},{"t":32,"s":"l","v":0.49},{"t":34,"s":"l","v":0.45},{"t":36,"s":"l","v":0.42},{"t":38,"s":"l","v":0.4},{"t":40,"s":"l","v":0.38},{"t":42,"s":"l","v":0.35},{"t":44,"s":"l","v":0.33},{"t":46,"s":"l","v":0.3},{"t":48,"s":"l","v":0.28},{"t":50,"s":"l","v":0.26},{"t":52,"s":"l","v":0.25},{"t":54,"s":"l","v":0.23},{"t":56,"s":"l","v":0.21},{"t":58,"s":"l","v":0.2},{"t":60,"s":"l","v":0.18},{"t":64,"s":"l","v":0.16},{"t":68,"s":"l","v":0.15},{"t":72,"s":"l","v":0.14},{"t":76,"s":"l","v":0.13},{"t":80,"s":"l","v":0.12},{"t":84,"s":"l","v":0.11},{"t":88,"s":"l","v":0.1},{"t":92,"s":"l","v":0.095},{"t":96,"s":"l","v":0.09},{"t":100,"s":"l","v":0.085},{"t":104,"s":"l","v":0.08},{"t":108,"s":"l","v":0.07},{"t":112,"s":"l","v":0.065},{"t":115,"s":"l","v":0.06}
],
"b3": [
{"t":0,"s":"l","v":1.0},{"t":3,"s":"l","v":0.97},{"t":5,"s":"l","v":1.01},{"t":7,"s":"l","v":1.03},{"t":10,"s":"l","v":1.0},{"t":12,"s":"l","v":1.05},{"t":15,"s":"l","v":1.15},{"t":18,"s":"l","v":1.22},{"t":20,"s":"l","v":1.26},{"t":25,"s":"l","v":1.33},{"t":30,"s":"l","v":1.4},{"t":35,"s":"l","v":1.45},{"t":40,"s":"l","v":1.49},{"t":45,"s":"l","v":1.53},{"t":50,"s":"l","v":1.57},{"t":55,"s":"l","v":1.6},{"t":60,"s":"l","v":1.63},{"t":65,"s":"l","v":1.65},{"t":70,"s":"l","v":1.67},{"t":75,"s":"l","v":1.67},{"t":80,"s":"l","v":1.68},{"t":85,"s":"l","v":1.68},{"t":90,"s":"l","v":1.69},{"t":95,"s":"l","v":1.67},{"t":100,"s":"l","v":1.66},{"t":105,"s":"l","v":1.65},{"t":110,"s":"l","v":1.64},{"t":115,"s":"l","v":1.63},{"t":120,"s":"l","v":1.61},{"t":125,"s":"l","v":1.59},{"t":130,"s":"l","v":1.56},{"t":133,"s":"l","v":1.53},{"t":136,"s":"l","v":1.45},{"t":139,"s":"l","v":1.33},{"t":142,"s":"l","v":1.15},{"t":145,"s":"l","v":1.0},{"t":148,"s":"l","v":0.85},{"t":151,"s":"l","v":0.72},{"t":155,"s":"l","v":0.6},{"t":160,"s":"l","v":0.5},{"t":165,"s":"l","v":0.4},{"t":170,"s":"l","v":0.32},{"t":175,"s":"l","v":0.26},{"t":180,"s":"l","v":0.22},{"t":185,"s":"l","v":0.19},{"t":190,"s":"l","v":0.17},{"t":195,"s":"l","v":0.16},{"t":200,"s":"l","v":0.15},
{"t":0,"s":"d","v":1.0},{"t":3,"s":"d","v":0.96},{"t":5,"s":"d","v":1.02},{"t":7,"s":"d","v":1.01},{"t":10,"s":"d","v":1.01},{"t":12,"s":"d","v":1.06},{"t":15,"s":"d","v":1.15},{"t":18,"s":"d","v":1.22},{"t":20,"s":"d","v":1.26},{"t":25,"s":"d","v":1.33},{"t":30,"s":"d","v":1.4},{"t":35,"s":"d","v":1.45},{"t":40,"s":"d","v":1.48},{"t":45,"s":"d","v":1.5},{"t":50,"s":"d","v":1.52},{"t":55,"s":"d","v":1.53},{"t":60,"s":"d","v":1.54},{"t":65,"s":"d","v":1.53},{"t":70,"s":"d","v":1.52},{"t":75,"s":"d","v":1.5},{"t":80,"s":"d","v":1.47},{"t":85,"s":"d","v":1.44},{"t":90,"s":"d","v":1.41},{"t":95,"s":"d","v":1.37},{"t":100,"s":"d","v":1.33},{"t":105,"s":"d","v":1.28},{"t":110,"s":"d","v":1.22},{"t":115,"s":"d","v":1.15},{"t":120,"s":"d","v":1.07},{"t":125,"s":"d","v":0.98},{"t":130,"s":"d","v":0.84},{"t":135,"s":"d","v":0.69},{"t":140,"s":"d","v":0.58},{"t":145,"s":"d","v":0.5},{"t":150,"s":"d","v":0.42},{"t":155,"s":"d","v":0.33},{"t":160,"s":"d","v":0.25},{"t":165,"s":"d","v":0.19},{"t":170,"s":"d","v":0.15},{"t":175,"s":"d","v":0.12},{"t":180,"s":"d","v":0.1},{"t":185,"s":"d","v":0.09},{"t":190,"s":"d","v":0.085},{"t":195,"s":"d","v":0.08},{"t":200,"s":"d","v":0.08},
{"t":0,"s":"t","v":1.0},{"t":3,"s":"t","v":0.97},{"t":5,"s":"t","v":1.02},{"t":8,"s":"t","v":1.01},{"t":10,"s":"t","v":1.02},{"t":13,"s":"t","v":1.08},{"t":16,"s":"t","v":1.14},{"t":19,"s":"t","v":1.18},{"t":22,"s":"t","v":1.2},{"t":25,"s":"t","v":1.22},{"t":28,"s":"t","v":1.24},{"t":31,"s":"t","v":1.26},{"t":34,"s":"t","v":1.28},{"t":37,"s":"t","v":1.26},{"t":40,"s":"t","v":1.23},{"t":43,"s":"t","v":1.2},{"t":46,"s":"t","v":1.17},{"t":49,"s":"t","v":1.13},{"t":52,"s":"t","v":1.08},{"t":55,"s":"t","v":1.02},{"t":58,"s":"t","v":0.98},{"t":61,"s":"t","v":0.93},{"t":64,"s":"t","v":0.87},{"t":67,"s":"t","v":0.82},{"t":70,"s":"t","v":0.77},{"t":73,"s":"t","v":0.72},{"t":76,"s":"t","v":0.66},{"t":79,"s":"t","v":0.61},{"t":82,"s":"t","v":0.56},{"t":85,"s":"t","v":0.52},{"t":88,"s":"t","v":0.5},{"t":91,"s":"t","v":0.45},{"t":94,"s":"t","v":0.41},{"t":97,"s":"t","v":0.38},{"t":100,"s":"t","v":0.34},{"t":105,"s":"t","v":0.28},{"t":110,"s":"t","v":0.23},{"t":115,"s":"t","v":0.19},{"t":120,"s":"t","v":0.15},{"t":125,"s":"t","v":0.12},{"t":130,"s":"t","v":0.1},{"t":135,"s":"t","v":0.08},{"t":140,"s":"t","v":0.06},{"t":145,"s":"t","v":0.05},{"t":150,"s":"t","v":0.04},{"t":155,"s":"t","v":0.03},{"t":160,"s":"t","v":0.02},{"t":170,"s":"t","v":0.015},{"t":180,"s":"t","v":0.01},{"t":190,"s":"t","v":0.01},{"t":200,"s":"t","v":0.01},
{"t":0,"s":"p","v":1.0},{"t":3,"s":"p","v":0.97},{"t":5,"s":"p","v":1.02},{"t":8,"s":"p","v":1.02},{"t":10,"s":"p","v":1.03},{"t":13,"s":"p","v":1.08},{"t":16,"s":"p","v":1.12},{"t":19,"s":"p","v":1.14},{"t":22,"s":"p","v":1.15},{"t":25,"s":"p","v":1.16},{"t":28,"s":"p","v":1.16},{"t":31,"s":"p","v":1.17},{"t":33,"s":"p","v":1.1},{"t":36,"s":"p","v":1.1},{"t":39,"s":"p","v":1.04},{"t":42,"s":"p","v":0.98},{"t":45,"s":"p","v":0.92},{"t":48,"s":"p","v":0.86},{"t":51,"s":"p","v":0.8},{"t":54,"s":"p","v":0.74},{"t":57,"s":"p","v":0.68},{"t":60,"s":"p","v":0.63},{"t":63,"s":"p","v":0.58},{"t":66,"s":"p","v":0.53},{"t":69,"s":"p","v":0.49},{"t":72,"s":"p","v":0.44},{"t":75,"s":"p","v":0.4},{"t":78,"s":"p","v":0.36},{"t":81,"s":"p","v":0.32},{"t":84,"s":"p","v":0.29},{"t":87,"s":"p","v":0.26},{"t":90,"s":"p","v":0.24},{"t":95,"s":"p","v":0.2},{"t":100,"s":"p","v":0.17},{"t":105,"s":"p","v":0.14},{"t":110,"s":"p","v":0.12},{"t":115,"s":"p","v":0.1},{"t":120,"s":"p","v":0.08},{"t":125,"s":"p","v":0.07},{"t":130,"s":"p","v":0.06},{"t":135,"s":"p","v":0.05},{"t":140,"s":"p","v":0.04},{"t":150,"s":"p","v":0.03},{"t":160,"s":"p","v":0.02},{"t":170,"s":"p","v":0.02},{"t":180,"s":"p","v":0.015},{"t":190,"s":"p","v":0.015},{"t":200,"s":"p","v":0.015},
{"t":0,"s":"k","v":1.0},{"t":3,"s":"k","v":0.97},{"t":5,"s":"k","v":1.02},{"t":8,"s":"k","v":1.02},{"t":10,"s":"k","v":1.03},{"t":13,"s":"k","v":1.05},{"t":16,"s":"k","v":1.07},{"t":19,"s":"k","v":1.09},{"t":22,"s":"k","v":1.09},{"t":25,"s":"k","v":1.07},{"t":28,"s":"k","v":1.03},{"t":31,"s":"k","v":0.98},{"t":34,"s":"k","v":0.9},{"t":37,"s":"k","v":0.82},{"t":40,"s":"k","v":0.74},{"t":43,"s":"k","v":0.67},{"t":46,"s":"k","v":0.6},{"t":49,"s":"k","v":0.54},{"t":52,"s":"k","v":0.49},{"t":55,"s":"k","v":0.43},{"t":58,"s":"k","v":0.37},{"t":61,"s":"k","v":0.32},{"t":64,"s":"k","v":0.28},{"t":67,"s":"k","v":0.24},{"t":70,"s":"k","v":0.2},{"t":73,"s":"k","v":0.17},{"t":76,"s":"k","v":0.15},{"t":79,"s":"k","v":0.12},{"t":82,"s":"k","v":0.1},{"t":85,"s":"k","v":0.09},{"t":88,"s":"k","v":0.08},{"t":91,"s":"k","v":0.07},{"t":95,"s":"k","v":0.06},{"t":100,"s":"k","v":0.05},{"t":105,"s":"k","v":0.04},{"t":110,"s":"k","v":0.035},{"t":115,"s":"k","v":0.03},{"t":120,"s":"k","v":0.025},{"t":130,"s":"k","v":0.02},{"t":140,"s":"k","v":0.015},{"t":150,"s":"k","v":0.01},{"t":160,"s":"k","v":0.01},{"t":180,"s":"k","v":0.01},{"t":200,"s":"k","v":0.01}
]
},
"hconcat": [
 {
  "title": {"text": "a", "anchor": "start", "frame": "group", "fontSize": 24, "fontWeight": "bold", "font": "Liberation Sans", "color": "#000", "dx": 22, "dy": 12, "offset": 0},
  "bounds": "flush", "spacing": 85,
  "resolve": {"scale": {"color": "independent"}},
  "vconcat": [
   {
    "width": 362, "height": 240,
    "data": {"name": "a1"},
    "title": {"text": "Meropenem", "fontSize": 22, "font": "Liberation Sans", "fontWeight": "bold", "color": "#000", "offset": 25},
    "encoding": {
     "x": {"field": "t", "type": "quantitative", "scale": {"domain": [0, 120], "nice": false}, "axis": {"title": "Time (min)", "values": [50, 100], "offset": -40, "labelPadding": 6, "titlePadding": 11}},
     "y": {"field": "v", "type": "quantitative", "scale": {"domain": [-1, 5], "nice": false}, "axis": {"title": "mV", "values": [0, 2, 4], "titlePadding": 5}},
     "color": {"field": "s", "type": "nominal", "scale": {"domain": ["k","p","t","d","l","c"], "range": ["#000000","#ee1c64","#1c8a80","#3c0d7e","#a97cf2","#6cc8ee"]},
      "legend": {"title": null, "orient": "none", "legendX": 393, "legendY": 8, "labelFontSize": 19, "rowPadding": 9, "symbolSize": 144, "symbolStrokeWidth": 2.5, "labelOffset": 5,
       "labelExpr": "datum.value==='k'?['Control','0mg/L']:datum.value==='p'?'2 mg/L':datum.value==='t'?'4 mg/L':datum.value==='d'?'8 mg/L':datum.value==='l'?'16 mg/L':'32 mg/L'"}}
    },
    "layer": [
     {"mark": {"type": "line", "strokeWidth": 1.8, "clip": true}},
     {"mark": {"type": "errorbar", "ticks": {"size": 7}, "thickness": 1.6, "clip": true}, "encoding": {"yError": {"field": "e"}}}
    ]
   },
   {
    "bounds": "flush", "spacing": 123,
    "resolve": {"scale": {"color": "independent"}},
    "vconcat": [
     {
      "width": 325, "height": 217,
      "data": {"name": "a2"},
      "title": {"text": "Gentamicin", "fontSize": 22, "font": "Liberation Sans", "fontWeight": "bold", "color": "#000", "offset": 10},
      "encoding": {
       "x": {"field": "t", "type": "quantitative", "scale": {"domain": [0, 120], "nice": false}, "axis": {"title": "Time (min)", "values": [0,5,10,15,20,25,30,35,40,45,50,55,60,65,70,75,80,85,90,95,100,105,110,115,120], "labelExpr": "datum.value % 50 === 0 ? datum.label : ''", "labelOverlap": false, "tickSize": {"condition": {"test": "datum.value % 50 === 0", "value": 7}, "value": 5}, "labelPadding": 5, "titlePadding": 8}},
       "y": {"field": "v", "type": "quantitative", "scale": {"domain": [0, 6], "nice": false}, "axis": {"title": "mV", "values": [0, 2, 4, 6], "titlePadding": 2}},
       "color": {"field": "s", "type": "nominal", "scale": {"domain": ["k","p","t","d","l","c"], "range": ["#000000","#ee1c64","#1c8a80","#3c0d7e","#a97cf2","#6cc8ee"]},
        "legend": {"title": null, "orient": "none", "legendX": 353, "legendY": 7, "labelFontSize": 17, "rowPadding": 8, "symbolSize": 169, "symbolStrokeWidth": 2.5, "labelOffset": 5,
         "labelExpr": "datum.value==='k'?'Control 0mg/L':datum.value==='p'?'0.0625mg/L':datum.value==='t'?'0.125mg/L':datum.value==='d'?'0.25mg/L':datum.value==='l'?'0.5mg/L':'1mg/L'"}}
      },
      "layer": [
       {"mark": {"type": "line", "strokeWidth": 1.8, "clip": true}},
       {"mark": {"type": "errorbar", "ticks": {"size": 7}, "thickness": 1.6, "clip": true}, "encoding": {"yError": {"field": "e"}}}
      ]
     },
     {
      "width": 338, "height": 223,
      "data": {"name": "a3"},
      "title": {"text": "Cefoxitin", "fontSize": 22, "font": "Liberation Sans", "fontWeight": "bold", "color": "#000", "offset": 16},
      "encoding": {
       "x": {"field": "t", "type": "quantitative", "scale": {"domain": [0, 200], "nice": false}, "axis": {"title": "Time (min)", "values": [50, 100, 150, 200], "offset": -20, "labelPadding": 6, "titlePadding": 8}},
       "y": {"field": "v", "type": "quantitative", "scale": {"domain": [-2, 20], "nice": false}, "axis": {"title": "mV", "values": [0, 5, 10, 15, 20], "titlePadding": 2}},
       "color": {"field": "s", "type": "nominal", "scale": {"domain": ["k","p","t","d","l","c"], "range": ["#000000","#ee1c64","#1c8a80","#3c0d7e","#a97cf2","#6cc8ee"]},
        "legend": {"title": null, "orient": "none", "legendX": 355, "legendY": 5, "labelFontSize": 18, "rowPadding": 8, "symbolSize": 169, "symbolStrokeWidth": 2.5, "labelOffset": 6,
         "labelExpr": "datum.value==='k'?'Control 0mg/L':datum.value==='p'?'32 mg/L':datum.value==='t'?'16 mg/L':datum.value==='d'?'8 mg/L':datum.value==='l'?'4 mg/L':'2 mg/L'"}}
      },
      "layer": [
       {"mark": {"type": "line", "strokeWidth": 1.8, "clip": true}},
       {"mark": {"type": "errorbar", "ticks": {"size": 7}, "thickness": 1.6, "clip": true}, "encoding": {"yError": {"field": "e"}}}
      ]
     }
    ]
   }
  ]
 },
 {
  "title": {"text": "b", "anchor": "start", "frame": "group", "fontSize": 24, "fontWeight": "bold", "font": "Liberation Sans", "color": "#000", "dx": 6, "dy": 22, "offset": 0},
  "bounds": "flush", "spacing": 130,
  "resolve": {"scale": {"color": "independent"}},
  "vconcat": [
   {
    "width": 272, "height": 207,
    "data": {"name": "b1"},
    "title": {"text": "Meropenem", "fontSize": 17.5, "font": "Liberation Sans", "fontWeight": "bold", "color": "#222", "offset": 26},
    "layer": [
     {"data": {"values": [{"v": 1}, {"v": 0.5}]}, "mark": {"type": "rule", "color": "#111", "strokeWidth": 1.5},
      "encoding": {"y": {"field": "v", "type": "quantitative", "title": "mV", "scale": {"domain": [0, 1.5], "nice": false}}}},
     {"mark": {"type": "line", "strokeWidth": 1.2, "point": {"filled": true, "size": 9, "shape": "square"}},
      "encoding": {
       "x": {"field": "t", "type": "quantitative", "scale": {"domain": [0, 105], "nice": false}, "axis": {"title": "Time (min)", "values": [0,5,10,15,20,25,30,35,40,45,50,55,60,65,70,75,80,85,90,95,100,105], "labelExpr": "datum.value % 50 === 0 ? datum.label : ''", "labelOverlap": false, "domainWidth": 1.5, "tickWidth": 1.2, "tickSize": 5, "domainColor": "#222", "tickColor": "#222", "labelFontSize": 14, "labelColor": "#222", "labelPadding": 3, "titleFontSize": 15.5, "titleColor": "#222", "titlePadding": 11}},
       "y": {"field": "v", "type": "quantitative", "title": "mV", "scale": {"domain": [0, 1.5], "nice": false}, "axis": {"values": [0, 0.5, 1, 1.5], "format": ".1f", "labelOverlap": false, "domainWidth": 1.5, "tickWidth": 1.2, "tickSize": 5, "domainColor": "#222", "tickColor": "#222", "labelFontSize": 14, "labelColor": "#222", "labelPadding": 2, "titleFontSize": 16, "titleColor": "#222", "titlePadding": 16}},
       "color": {"field": "s", "type": "nominal", "scale": {"domain": ["k","p","t","d","l"], "range": ["#111111","#d3246c","#2e8f84","#2b1f5e","#b38ad4"]},
        "legend": {"title": null, "orient": "none", "legendX": 310, "legendY": 7, "labelFontSize": 15.5, "labelColor": "#222", "rowPadding": 12, "symbolSize": 100, "symbolStrokeWidth": 1.5, "labelOffset": 2,
         "labelExpr": "datum.value==='k'?'2 mg/l':datum.value==='p'?'4 mg/L':datum.value==='t'?'8 mg/L':datum.value==='d'?'16 mg/L':'32 mg/L'"}}
      }}
    ]
   },
   {
    "bounds": "flush", "spacing": 120,
    "resolve": {"scale": {"color": "independent"}},
    "vconcat": [
     {
      "width": 280, "height": 209,
      "data": {"name": "b2"},
      "title": {"text": "Gentamicin", "fontSize": 17.5, "font": "Liberation Sans", "fontWeight": "bold", "color": "#222", "offset": 24},
      "layer": [
       {"data": {"values": [{"v": 1}, {"v": 0.5}]}, "mark": {"type": "rule", "color": "#111", "strokeWidth": 1.5},
        "encoding": {"y": {"field": "v", "type": "quantitative", "title": "mV", "scale": {"domain": [0, 1.25], "nice": false}}}},
       {"mark": {"type": "line", "strokeWidth": 1.2, "point": {"filled": true, "size": 8, "shape": "square"}},
        "encoding": {
         "x": {"field": "t", "type": "quantitative", "scale": {"domain": [0, 120], "nice": false}, "axis": {"title": "Time (min)", "values": [0,5,10,15,20,25,30,35,40,45,50,55,60,65,70,75,80,85,90,95,100,105,110,115,120], "labelExpr": "datum.value % 50 === 0 ? datum.label : ''", "labelOverlap": false, "domainWidth": 1.5, "tickWidth": 1.2, "tickSize": 5, "domainColor": "#222", "tickColor": "#222", "labelFontSize": 14, "labelColor": "#222", "labelPadding": 3, "titleFontSize": 15.5, "titleColor": "#222", "titlePadding": 11}},
         "y": {"field": "v", "type": "quantitative", "title": "mV", "scale": {"domain": [0, 1.25], "nice": false}, "axis": {"values": [0, 0.25, 0.5, 0.75, 1, 1.25], "format": ".2f", "labelOverlap": false, "domainWidth": 1.5, "tickWidth": 1.2, "tickSize": 5, "domainColor": "#222", "tickColor": "#222", "labelFontSize": 14, "labelColor": "#222", "labelPadding": 2, "titleFontSize": 16, "titleColor": "#222", "titlePadding": 8}},
         "color": {"field": "s", "type": "nominal", "scale": {"domain": ["k","p","t","d","l"], "range": ["#111111","#d3246c","#2e8f84","#2b1f5e","#b38ad4"]},
          "legend": {"title": null, "orient": "none", "legendX": 318, "legendY": 3, "labelFontSize": 12, "labelColor": "#222", "rowPadding": 18, "symbolSize": 100, "symbolStrokeWidth": 1.5, "labelOffset": 4,
           "labelExpr": "datum.value==='k'?'0.0625 mg/l':datum.value==='p'?' 0.125mg/L':datum.value==='t'?'0.25 mg/L':datum.value==='d'?'0.5 mg/L':'1 mg/L'"}}
        }}
      ]
     },
     {
      "width": 279, "height": 209,
      "data": {"name": "b3"},
      "title": {"text": "Cefoxitin", "fontSize": 17.5, "font": "Liberation Sans", "fontWeight": "bold", "color": "#222", "offset": 25},
      "layer": [
       {"data": {"values": [{"v": 1}, {"v": 0.5}]}, "mark": {"type": "rule", "color": "#111", "strokeWidth": 1.5},
        "encoding": {"y": {"field": "v", "type": "quantitative", "title": "mV", "scale": {"domain": [0, 2], "nice": false}}}},
       {"mark": {"type": "line", "strokeWidth": 1.2, "point": {"filled": true, "size": 7, "shape": "triangle-up"}},
        "encoding": {
         "x": {"field": "t", "type": "quantitative", "scale": {"domain": [0, 200], "nice": false}, "axis": {"title": "Time (min)", "values": [0,5,10,15,20,25,30,35,40,45,50,55,60,65,70,75,80,85,90,95,100,105,110,115,120,125,130,135,140,145,150,155,160,165,170,175,180,185,190,195,200], "labelExpr": "datum.value % 50 === 0 ? datum.label : ''", "labelOverlap": false, "domainWidth": 1.5, "tickWidth": 1.2, "tickSize": 5, "domainColor": "#222", "tickColor": "#222", "labelFontSize": 14, "labelColor": "#222", "labelPadding": 3, "titleFontSize": 15.5, "titleColor": "#222", "titlePadding": 11}},
         "y": {"field": "v", "type": "quantitative", "title": "mV", "scale": {"domain": [0, 2], "nice": false}, "axis": {"values": [0, 0.25, 0.5, 0.75, 1, 1.25, 1.5, 1.75, 2], "format": ".2f", "labelOverlap": false, "domainWidth": 1.5, "tickWidth": 1.2, "tickSize": 5, "domainColor": "#222", "tickColor": "#222", "labelFontSize": 14, "labelColor": "#222", "labelPadding": 2, "titleFontSize": 16, "titleColor": "#222", "titlePadding": 8}},
         "color": {"field": "s", "type": "nominal", "scale": {"domain": ["l","d","t","p","k"], "range": ["#b38ad4","#2b1f5e","#2e8f84","#d3246c","#111111"]},
          "legend": {"title": null, "orient": "none", "legendX": 307, "legendY": 19, "labelFontSize": 15.5, "labelColor": "#222", "rowPadding": 9, "symbolSize": 100, "symbolStrokeWidth": 1.5, "labelOffset": 2,
           "labelExpr": "datum.value==='l'?'2 mg/L':datum.value==='d'?'4 mg/L':datum.value==='t'?'8 mg/L':datum.value==='p'?'16  mg/L':'32 mg/L'"}}
        }}
      ]
     }
    ]
   }
  ]
 }
],
"spacing": 636,
"bounds": "flush",
"resolve": {"scale": {"color": "independent"}}
}
